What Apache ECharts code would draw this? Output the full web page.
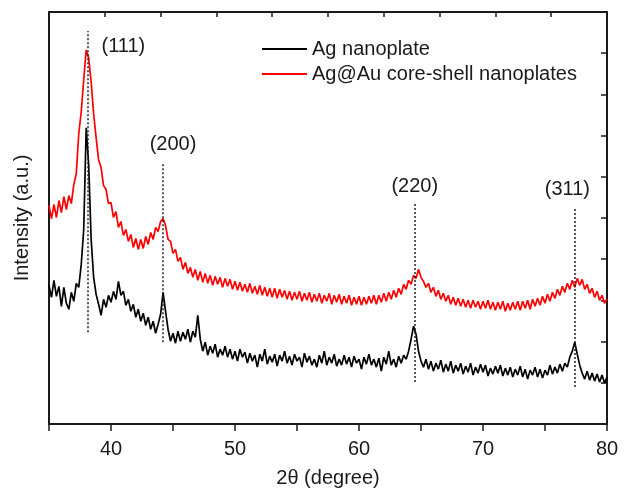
<!DOCTYPE html>
<html>
<head>
<meta charset="utf-8">
<script src="https://cdn.jsdelivr.net/npm/echarts@6/dist/echarts.min.js"></script>
<style>
    html, body { margin: 0; padding: 0; background: #fff; }
    #chart { width: 626px; height: 493px; }
</style>
</head>
<body>
<div id="chart"></div>
<script>
// 2theta sampling: 35.0 .. 80.0, step 0.2
const thetaStart = 35;
const thetaStep = 0.2;

// Ag nanoplate intensity (a.u.)
const agNanoplate = [
    139, 127, 144, 128, 138, 118, 137, 121, 115, 132,
    123, 141, 137, 160, 195, 297, 260, 185, 147, 130,
    120, 109, 125, 117, 129, 122, 133, 125, 143, 129,
    133, 119, 125, 113, 120, 107, 115, 103, 111, 99,
    107, 95, 103, 91, 100, 110, 132, 113, 95, 83,
    91, 81, 93, 83, 92, 85, 95, 82, 93, 87,
    109, 85, 73, 82, 69, 78, 71, 80, 67, 75,
    69, 78, 67, 75, 65, 73, 63, 75, 67, 72,
    61, 71, 63, 69, 57, 70, 63, 75, 60, 68,
    62, 70, 58, 69, 63, 73, 61, 68, 59, 70,
    63, 67, 57, 71, 62, 68, 59, 65, 57, 69,
    61, 73, 59, 67, 61, 70, 58, 65, 59, 69,
    60, 67, 57, 68, 61, 65, 55, 67, 60, 70,
    59, 65, 57, 66, 53, 67, 60, 73, 59, 65,
    57, 68, 61, 69, 65, 73, 85, 98, 90, 73,
    63, 57, 65, 55, 63, 53, 61, 55, 64, 52,
    60, 53, 63, 51, 59, 53, 61, 50, 58, 52,
    61, 49, 57, 51, 60, 52, 59, 48, 56, 50,
    58, 51, 59, 48, 56, 49, 57, 47, 55, 49,
    58, 47, 55, 45, 54, 49, 57, 47, 55, 46,
    54, 49, 59, 50, 57, 51, 60, 53, 61, 57,
    67, 73, 82, 70, 59, 51, 45, 53, 44, 51,
    43, 50, 42, 49, 41, 47
];

// Ag@Au core-shell nanoplates intensity (a.u.)
const agAuCoreShell = [
    219, 206, 220, 207, 224, 212, 228, 215, 229, 221,
    240, 251, 291, 313, 345, 375, 367, 343, 311, 287,
    265, 257, 239, 235, 221, 222, 207, 213, 197, 203,
    189, 195, 183, 190, 177, 186, 175, 185, 176, 188,
    180, 192, 185, 197, 193, 203, 206, 199, 185, 183,
    171, 175, 163, 167, 155, 162, 151, 157, 147, 155,
    144, 153, 142, 151, 141, 149, 139, 148, 140, 147,
    137, 146, 138, 145, 135, 143, 134, 142, 133, 140,
    132, 141, 131, 138, 130, 139, 129, 137, 128, 136,
    127, 136, 126, 135, 127, 134, 125, 133, 124, 132,
    125, 133, 123, 131, 124, 132, 122, 130, 123, 131,
    121, 129, 123, 131, 120, 129, 122, 130, 120, 128,
    121, 129, 119, 127, 120, 128, 119, 127, 120, 128,
    121, 129, 120, 129, 122, 131, 123, 132, 125, 134,
    127, 136, 130, 140, 135, 144, 140, 149, 146, 155,
    147, 143, 137, 141, 132, 137, 128, 134, 125, 131,
    123, 129, 120, 127, 119, 126, 118, 125, 117, 124,
    116, 124, 117, 123, 115, 123, 116, 124, 115, 122,
    114, 122, 115, 123, 113, 121, 114, 122, 115, 123,
    114, 123, 116, 124, 115, 125, 118, 126, 119, 128,
    121, 130, 123, 132, 126, 135, 129, 138, 132, 141,
    135, 144, 137, 146, 139, 145, 135, 140, 131, 136,
    127, 133, 124, 129, 121, 125
];

// reflection markers
const peakTheta = [38.1, 44.2, 64.5, 77.4];
const peakNames = ["(111)", "(200)", "(220)", "(311)"];
const peakLineTop = [394, 262, 222, 216];
const peakLineBottom = [92, 82, 42, 37];
const peakLabelTheta = [41.0, 45.0, 64.5, 76.8];
const peakLabelY = [378, 280, 238, 235];

const font = "Arial, 'Liberation Sans', sans-serif";
const axisColor = "#1a1a1a";
const textColor = "#1a1a1a";

const toPairs = arr => arr.map((v, i) => [+(thetaStart + i * thetaStep).toFixed(1), v]);

const chart = echarts.init(document.getElementById("chart"));

chart.setOption({
    animation: false,
    backgroundColor: "#fff",
    textStyle: { fontFamily: font },
    grid: { left: 49, top: 12, width: 558, height: 413 },
    legend: {
        left: 257,
        top: 34,
        orient: "vertical",
        itemWidth: 45,
        itemHeight: 2,
        itemGap: 5,
        icon: "rect",
        data: ["Ag nanoplate", "Ag@Au core-shell nanoplates"],
        textStyle: { fontSize: 20, color: textColor, fontFamily: font }
    },
    xAxis: [
        {
            type: "value",
            min: 35,
            max: 80,
            interval: 5,
            position: "bottom",
            name: "2θ (degree)",
            nameLocation: "middle",
            nameGap: 44,
            nameTextStyle: { fontSize: 20, color: textColor, fontFamily: font },
            axisLine: { lineStyle: { color: axisColor, width: 2 } },
            axisTick: { inside: false, length: 7, lineStyle: { color: axisColor, width: 1.5 } },
            axisLabel: {
                margin: 15,
                fontSize: 20,
                color: textColor,
                fontFamily: font,
                formatter: v => (v % 10 === 0 ? String(v) : "")
            },
            splitLine: { show: false }
        },
        {
            type: "value",
            min: 0,
            max: 10,
            interval: 1,
            position: "top",
            axisLine: { onZero: false, lineStyle: { color: axisColor, width: 2 } },
            axisTick: { inside: true, length: 5, lineStyle: { color: axisColor, width: 1.5 } },
            axisLabel: { show: false },
            splitLine: { show: false }
        }
    ],
    yAxis: [
        {
            type: "value",
            min: 0,
            max: 413,
            name: "Intensity (a.u.)",
            nameLocation: "middle",
            nameGap: 17,
            nameTextStyle: { fontSize: 20, color: textColor, fontFamily: font },
            axisLine: { show: true, lineStyle: { color: axisColor, width: 2 } },
            axisTick: { show: false },
            axisLabel: { show: false },
            splitLine: { show: false }
        },
        {
            type: "value",
            min: 0,
            max: 10,
            interval: 1,
            position: "right",
            axisLine: { show: true, onZero: false, lineStyle: { color: axisColor, width: 2 } },
            axisTick: { show: true, inside: true, length: 6, lineStyle: { color: axisColor, width: 1.5 } },
            axisLabel: { show: false },
            splitLine: { show: false }
        }
    ],
    series: [
        {
            name: "Ag@Au core-shell nanoplates",
            type: "line",
            xAxisIndex: 0,
            yAxisIndex: 0,
            data: toPairs(agAuCoreShell),
            showSymbol: false,
            symbol: "none",
            color: "#ff0000",
            lineStyle: { width: 1.7, color: "#ff0000" },
            z: 2
        },
        {
            name: "Ag nanoplate",
            type: "line",
            xAxisIndex: 0,
            yAxisIndex: 0,
            data: toPairs(agNanoplate),
            showSymbol: false,
            symbol: "none",
            color: "#000",
            lineStyle: { width: 1.7, color: "#000" },
            z: 3,
            markLine: {
                silent: true,
                symbol: ["none", "none"],
                label: { show: false },
                lineStyle: { color: "#222", width: 1.5, type: [2, 2] },
                data: peakTheta.map((t, i) => [
                    { coord: [t, peakLineBottom[i]] },
                    { coord: [t, peakLineTop[i]] }
                ])
            },
            markPoint: {
                silent: true,
                symbol: "circle",
                symbolSize: 0,
                label: {
                    show: true,
                    position: "inside",
                    fontSize: 20,
                    color: textColor,
                    fontFamily: font,
                    formatter: p => p.name
                },
                data: peakNames.map((n, i) => ({
                    name: n,
                    coord: [peakLabelTheta[i], peakLabelY[i]]
                }))
            }
        }
    ]
});
</script>
</body>
</html>
